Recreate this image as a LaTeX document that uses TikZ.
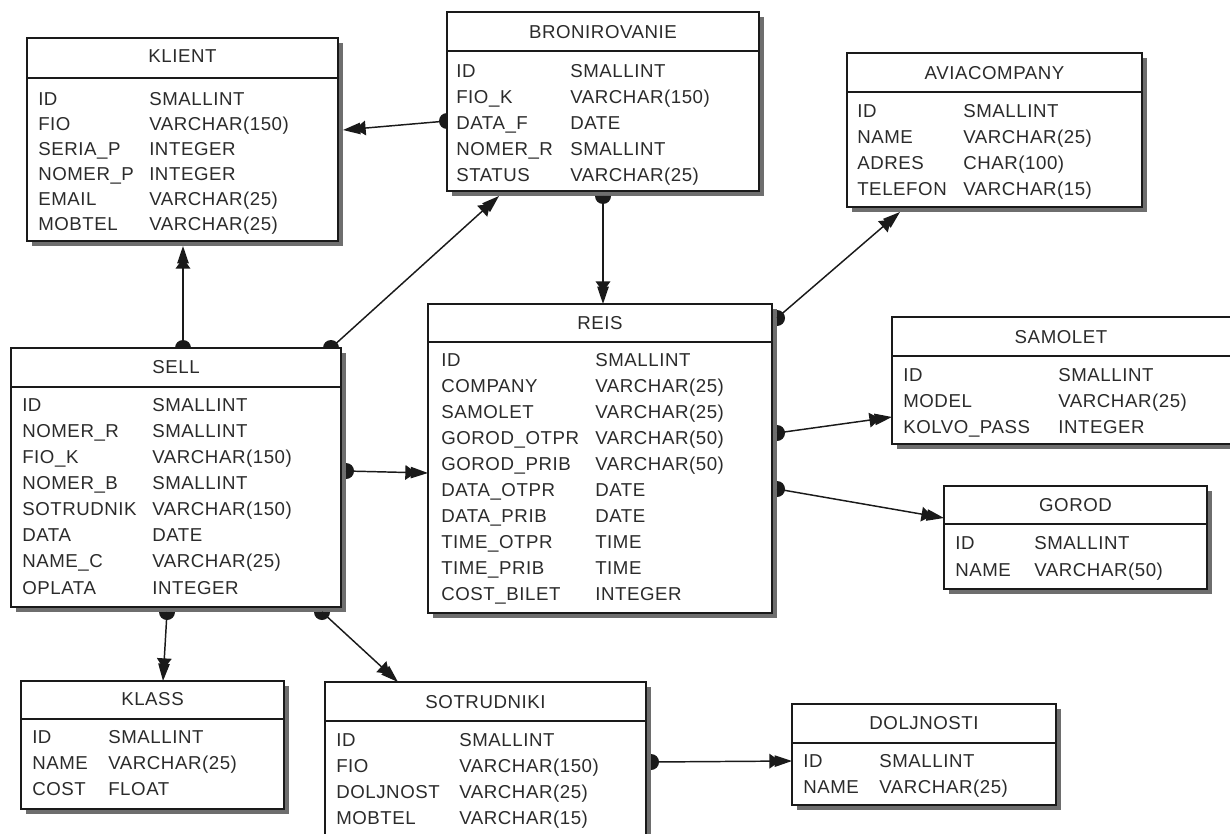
\documentclass[tikz,border=0pt]{standalone}
\usepackage{fontspec}
\setmainfont[LetterSpace=3]{Liberation Sans}
\usetikzlibrary{arrows.meta,fit}
\definecolor{ink}{HTML}{2B2B2B}
\definecolor{edge}{HTML}{1A1A1A}
\definecolor{shade}{HTML}{6E6E6E}

\tikzset{
  tbl/.style={draw=edge, line width=1.3pt, fill=white, inner sep=0pt, outer sep=0pt},
  tline/.style={draw=edge, line width=1.3pt},
  shadowbox/.style={fill=shade},
  ttl/.style={inner sep=0pt, text=ink, text height=10pt, text depth=0pt, font=\fontsize{14}{16}\selectfont},
  fld/.style={anchor=west, inner sep=0pt, text=ink, text height=10pt, text depth=0pt, font=\fontsize{14}{16}\selectfont},
  rel/.style={draw=edge, line width=1.1pt,
    -{Triangle[length=8pt,width=11pt,sep=-4pt]Triangle[length=13pt,width=8.5pt,sep=0pt]}},
  dotc/.style={fill=edge}
}

% table frame: name, left, top, right, bottom, separator y (pixel units, y down)
\newcommand\dbtable[6]{%
  \fill[shadowbox] (#2+5,#3+5) rectangle (#4+5,#5+5);
  \node[tbl, fit={(#2,#3) (#4,#5)}] (#1) {};
  \draw[tline] (#1.west |- 0,#6) -- (#1.east |- 0,#6);
}
% table title: name, title y, text
\newcommand\dbtitle[3]{\node[ttl] (#1-t) at (#1.north |- 0,#2) {#3};}
% columns: name, x of field, x of type, first row y, row step, list
\newcommand\dbrows[6]{%
  \foreach \n/\t [count=\i] in {#6} {
    \node[fld] (#1-k\i) at (#2,{#4+(\i-1)*#5}) {\n};
    \node[fld] (#1-v\i) at (#3,{#4+(\i-1)*#5}) {\t};
  }}
% half-disc markers on the table edge
\newcommand\dotW[1]{\fill[dotc] (#1) ++(0,8) arc[start angle=90,end angle=270,radius=8] -- cycle;}
\newcommand\dotE[1]{\fill[dotc] (#1) ++(0,-8) arc[start angle=-90,end angle=90,radius=8] -- cycle;}
\newcommand\dotN[1]{\fill[dotc] (#1) ++(-8,0) arc[start angle=180,end angle=360,radius=8] -- cycle;}
\newcommand\dotS[1]{\fill[dotc] (#1) ++(8,0) arc[start angle=0,end angle=180,radius=8] -- cycle;}

\begin{document}
\begin{tikzpicture}[x=0.75pt,y=-0.75pt]
\useasboundingbox[fill=white] (0,0) rectangle (1230,834);

% ---- tables ----
\dbtable{klient}{27}{38}{338}{241}{78}
\dbtitle{klient}{56}{KLIENT}
\dbrows{klient}{38}{149}{99}{24.9}{ID/SMALLINT, FIO/VARCHAR(150), SERIA\_P/INTEGER, NOMER\_P/INTEGER, EMAIL/VARCHAR(25), MOBTEL/VARCHAR(25)}

\dbtable{bron}{447}{12}{759}{191}{51}
\dbtitle{bron}{32}{BRONIROVANIE}
\dbrows{bron}{456}{570}{70.5}{26.1}{ID/SMALLINT, FIO\_K/VARCHAR(150), DATA\_F/DATE, NOMER\_R/SMALLINT, STATUS/VARCHAR(25)}

\dbtable{avia}{847}{53}{1142}{207}{92}
\dbtitle{avia}{73}{AVIACOMPANY}
\dbrows{avia}{857}{963}{111}{26}{ID/SMALLINT, NAME/VARCHAR(25), ADRES/CHAR(100), TELEFON/VARCHAR(15)}

\dbtable{sell}{11}{348}{341}{607}{387}
\dbtitle{sell}{367}{SELL}
\dbrows{sell}{22}{152}{405}{26.05}{ID/SMALLINT, NOMER\_R/SMALLINT, FIO\_K/VARCHAR(150), NOMER\_B/SMALLINT, SOTRUDNIK/VARCHAR(150), DATA/DATE, NAME\_C/VARCHAR(25), OPLATA/INTEGER}

\dbtable{reis}{428}{304}{772}{613}{342}
\dbtitle{reis}{323}{REIS}
\dbrows{reis}{441}{595}{360}{26}{ID/SMALLINT, COMPANY/VARCHAR(25), SAMOLET/VARCHAR(25), GOROD\_OTPR/VARCHAR(50), GOROD\_PRIB/VARCHAR(50), DATA\_OTPR/DATE, DATA\_PRIB/DATE, TIME\_OTPR/TIME, TIME\_PRIB/TIME, COST\_BILET/INTEGER}

\dbtable{samolet}{892}{317}{1232}{444}{356}
\node[ttl] (samolet-t) at (1061,337) {SAMOLET};
\dbrows{samolet}{903}{1058}{375}{25.8}{ID/SMALLINT, MODEL/VARCHAR(25), KOLVO\_PASS/INTEGER}

\dbtable{gorod}{944}{486}{1207}{589}{524}
\dbtitle{gorod}{505}{GOROD}
\dbrows{gorod}{955}{1034}{543}{26.5}{ID/SMALLINT, NAME/VARCHAR(50)}

\dbtable{klass}{21}{681}{284}{809}{719}
\dbtitle{klass}{699}{KLASS}
\dbrows{klass}{32}{108}{737}{26}{ID/SMALLINT, NAME/VARCHAR(25), COST/FLOAT}

\dbtable{sotr}{325}{682}{646}{850}{721}
\dbtitle{sotr}{702}{SOTRUDNIKI}
\dbrows{sotr}{336}{459}{740}{25.8}{ID/SMALLINT, FIO/VARCHAR(150), DOLJNOST/VARCHAR(25), MOBTEL/VARCHAR(15)}

\dbtable{dolj}{792}{704}{1056}{805}{743}
\dbtitle{dolj}{723}{DOLJNOSTI}
\dbrows{dolj}{803}{879}{761}{26}{ID/SMALLINT, NAME/VARCHAR(25)}

% ---- relationship end points ----
\coordinate (r1a) at (bron.west |- 0,121);
\coordinate[xshift=3.75pt] (r1b) at (klient.east |- 0,130);
\coordinate (r2a) at (sell.north -| 183,0);
\coordinate[yshift=-3.75pt] (r2b) at (klient.south -| 183,0);
\coordinate (r3a) at (sell.north -| 331,0);
\coordinate[yshift=-3.75pt] (r3b) at (bron.south -| 499,0);
\coordinate[yshift=-3.75pt] (r4a) at (bron.south -| 603,0);
\coordinate (r4b) at (reis.north -| 603,0);
\coordinate[xshift=3.75pt] (r5a) at (sell.east |- 0,471);
\coordinate (r5b) at (reis.west |- 0,473);
\coordinate[xshift=3.75pt] (r6a) at (reis.east |- 0,318);
\coordinate[yshift=-3.75pt] (r6b) at (avia.south -| 900,0);
\coordinate[xshift=3.75pt] (r7a) at (reis.east |- 0,433);
\coordinate (r7b) at (samolet.west |- 0,417);
\coordinate[xshift=3.75pt] (r8a) at (reis.east |- 0,489);
\coordinate (r8b) at (gorod.west |- 0,518);
\coordinate[yshift=-3.75pt] (r9a) at (sell.south -| 167,0);
\coordinate (r9b) at (klass.north -| 163,0);
\coordinate[yshift=-3.75pt] (r10a) at (sell.south -| 322,0);
\coordinate (r10b) at (sotr.north -| 398,0);
\coordinate[xshift=3.75pt] (r11a) at (sotr.east |- 0,762);
\coordinate (r11b) at (dolj.west |- 0,761);

% ---- relationships ----
\draw[rel] (r1a) -- (r1b);   \dotW{r1a}
\draw[rel] (r2a) -- (r2b);   \dotN{r2a}
\draw[rel] (r3a) -- (r3b);   \dotN{r3a}
\draw[rel] (r4a) -- (r4b);   \dotS{r4a}
\draw[rel] (r5a) -- (r5b);   \dotE{r5a}
\draw[rel] (r6a) -- (r6b);   \dotE{r6a}
\draw[rel] (r7a) -- (r7b);   \dotE{r7a}
\draw[rel] (r8a) -- (r8b);   \dotE{r8a}
\draw[rel] (r9a) -- (r9b);   \dotS{r9a}
\draw[rel] (r10a) -- (r10b); \dotS{r10a}
\draw[rel] (r11a) -- (r11b); \dotE{r11a}
\end{tikzpicture}
\end{document}
